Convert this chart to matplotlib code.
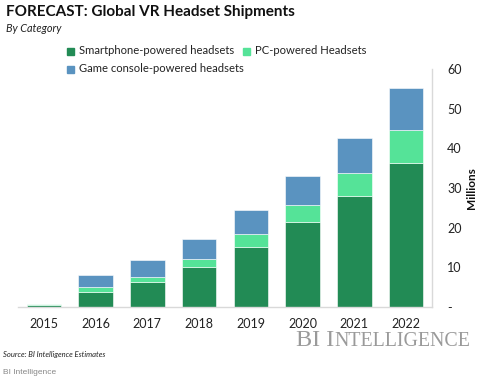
import matplotlib
matplotlib.use("Agg")
import matplotlib.pyplot as plt
import numpy as np

years = ["2015", "2016", "2017", "2018", "2019", "2020", "2021", "2022"]
smartphone = [0.4, 3.9, 6.2, 10.1, 15.2, 21.4, 27.9, 36.3]
pc = [0.4, 1.1, 1.4, 2.0, 3.1, 4.3, 5.9, 8.3]
console = [0.05, 3.1, 4.3, 5.1, 6.1, 7.2, 8.7, 10.5]
yticks = [0, 10, 20, 30, 40, 50, 60]
ytick_labels = ["-", "10", "20", "30", "40", "50", "60"]

c_sm = "#228B55"
c_pc = "#55E398"
c_gc = "#5A93C0"

plt.rcParams['font.family'] = ['Lato', 'DejaVu Sans']

fig = plt.figure(figsize=(4.8, 3.8), dpi=100)
W, H = 480, 380
ax = fig.add_axes([18 / W, 1 - 307 / H, (432 - 18) / W, (307 - 69) / H])

x = np.arange(len(years))
sm = np.array(smartphone)
p = np.array(pc)
g = np.array(console)
bw = 0.67
ax.bar(x, sm, bw, color=c_sm, edgecolor="white", linewidth=0.4, label="Smartphone-powered headsets")
ax.bar(x, p, bw, bottom=sm, color=c_pc, edgecolor="white", linewidth=0.4, label="PC-powered Headsets")
ax.bar(x, g, bw, bottom=sm + p, color=c_gc, edgecolor="white", linewidth=0.4, label="Game console-powered headsets")

ax.set_xlim(-0.5, len(years) - 0.5)
ax.set_ylim(0, 60)
ax.set_xticks(x)
ax.set_xticklabels(years, fontsize=9)
ax.set_yticks(yticks)
ax.set_yticklabels(ytick_labels, fontsize=9)
ax.yaxis.tick_right()
ax.tick_params(axis="both", length=0, colors="#222222")
ax.tick_params(axis="y", pad=11)
ax.tick_params(axis="x", pad=8)
for s in ["top", "left"]:
    ax.spines[s].set_visible(False)
ax.spines["bottom"].set_color("#d9d9d9")
ax.spines["right"].set_color("#d9d9d9")
ax.spines["bottom"].set_linewidth(1)
ax.spines["right"].set_linewidth(1)
fig.text(471 / W, 1 - 188 / H, "Millions", fontsize=8.5, fontweight="bold", rotation=90,
         va="center", ha="center", color="#111111")

# titles
fig.text(6 / W, 1 - 12 / H, "FORECAST: Global VR Headset Shipments", fontsize=11,
         fontweight="bold", va="center", ha="left", color="#111111")
fig.text(6 / W, 1 - 29 / H, "By Category", fontsize=7.8, style="italic", va="center", ha="left",
         color="#222222")

# legend
handles, labels = ax.get_legend_handles_labels()
items = [(0, 71, 51), (1, 247, 51), (2, 71, 69)]
for i, lx, ly in items:
    fig.patches.append(plt.Rectangle(((lx - 4) / W, 1 - (ly + 4) / H), 7 / W, 7 / H,
                                     transform=fig.transFigure, color=[c_sm, c_pc, c_gc][i]))
    fig.text((lx + 8) / W, 1 - ly / H, labels[i], fontsize=8.1, va="center", ha="left",
             color="#222222")

# branding
fig.text(296 / W, 1 - 346 / H, "BI I", fontsize=17.5, family="Liberation Serif", color="#9a9a9a",
         va="baseline", ha="left")
fig.text(334 / W, 1 - 346 / H, "NTELLIGENCE", fontsize=14.3, family="Liberation Serif",
         color="#9a9a9a", va="baseline", ha="left")
fig.text(3 / W, 1 - 355 / H, "Source: BI Intelligence Estimates", fontsize=5.5, style="italic",
         va="center", ha="left", color="#222222")
fig.text(3 / W, 1 - 372 / H, "BI Intelligence", fontsize=6, family="Liberation Sans",
         va="center", ha="left", color="#888888")

fig.savefig("out.png", dpi=100)
